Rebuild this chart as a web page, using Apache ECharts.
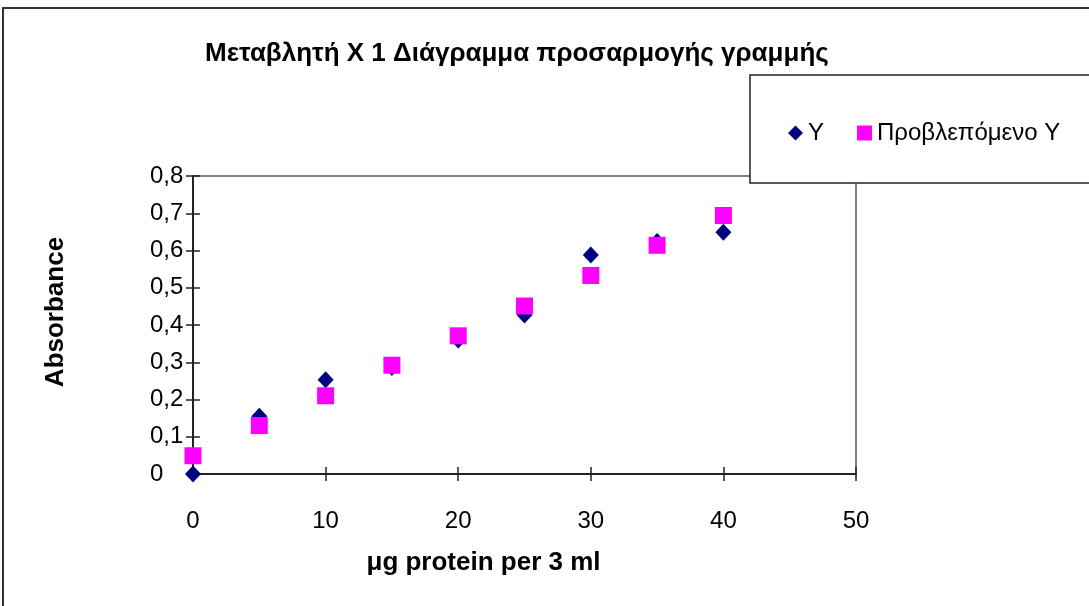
<!DOCTYPE html>
<html>
<head>
<meta charset="utf-8">
<script src="https://cdn.jsdelivr.net/npm/echarts@6/dist/echarts.min.js"></script>
<style>
html,body{margin:0;padding:0;background:#fff;}
#chart{width:1089px;height:606px;}
</style>
</head>
<body>
<div id="chart"></div>
<script>
// Data
var titleText = 'Μεταβλητή X 1 Διάγραμμα προσαρμογής γραμμής';
var xAxisName = 'μg protein per 3 ml';
var yAxisName = 'Absorbance';
var seriesNames = ['Y', 'Προβλεπόμενο Υ'];
var xValues = [0, 5, 10, 15, 20, 25, 30, 35, 40];
var yObserved = [0.000, 0.155, 0.253, 0.286, 0.360, 0.427, 0.588, 0.624, 0.649];
var yPredicted = [0.049, 0.130, 0.210, 0.292, 0.371, 0.451, 0.533, 0.614, 0.694];

function pairs(xs, ys) {
  var out = [];
  for (var i = 0; i < xs.length; i++) out.push([xs[i], ys[i]]);
  return out;
}

var FONT = '"Liberation Sans", Arial, sans-serif';
var chart = echarts.init(document.getElementById('chart'), null, {renderer: 'canvas'});

function yFmt(v) {
  if (v === 0) return '0';
  return v.toFixed(1).replace('.', ',');
}

var option = {
  backgroundColor: '#ffffff',
  animation: false,
  title: {
    text: titleText,
    left: 200,
    top: 36,
    textStyle: {fontFamily: FONT, fontSize: 26, fontWeight: 'bold', color: '#000'}
  },
  graphic: [
    {
      type: 'rect', z: 100,
      shape: {x: 3, y: 8, width: 1200, height: 800},
      style: {fill: 'none', stroke: '#333', lineWidth: 2}
    },
    {
      type: 'rect', z: 100,
      shape: {x: 750, y: 75, width: 400, height: 108},
      style: {fill: '#fff', stroke: '#222', lineWidth: 1.5}
    }
  ],
  legend: {
    z: 200,
    left: 783,
    top: 116,
    itemWidth: 15,
    itemHeight: 15,
    itemGap: 33,
    textStyle: {fontFamily: FONT, fontSize: 24, color: '#000'},
    data: [
      {name: seriesNames[0], icon: 'diamond', itemStyle: {color: '#000080'}},
      {name: seriesNames[1], icon: 'rect', itemStyle: {color: '#FF00FF'}}
    ]
  },
  grid: {
    left: 193, top: 176, right: 233, bottom: 132,
    show: true, borderColor: '#808080', borderWidth: 2, backgroundColor: '#fff'
  },
  xAxis: [
    {
      type: 'value', min: 0, max: 50, interval: 10, position: 'bottom',
      axisLine: {show: true, onZero: false, lineStyle: {color: '#222', width: 2}},
      axisTick: {show: true, inside: false, length: 7, lineStyle: {color: '#222', width: 1.5}},
      axisLabel: {margin: 35, fontFamily: FONT, fontSize: 24, color: '#000'},
      splitLine: {show: false},
      name: xAxisName, nameLocation: 'middle', nameGap: 76,
      nameTextStyle: {fontFamily: FONT, fontSize: 26, fontWeight: 'bold', color: '#000', padding: [0, 82, 0, 0]}
    },
    {
      type: 'value', min: 0, max: 50, interval: 10, position: 'bottom',
      axisLine: {show: false},
      axisTick: {show: true, inside: true, length: 7, lineStyle: {color: '#222', width: 1.5}},
      axisLabel: {show: false},
      splitLine: {show: false}
    }
  ],
  yAxis: [
    {
      type: 'value', min: 0, max: 0.8, interval: 0.1, position: 'left',
      axisLine: {show: true, onZero: false, lineStyle: {color: '#222', width: 2}},
      axisTick: {show: true, inside: false, length: 7, lineStyle: {color: '#222', width: 1.5}},
      axisLabel: {margin: 43, align: 'left', fontFamily: FONT, fontSize: 24, color: '#000', formatter: yFmt},
      splitLine: {show: false},
      name: yAxisName, nameLocation: 'middle', nameGap: 124,
      nameTextStyle: {fontFamily: FONT, fontSize: 26, fontWeight: 'bold', color: '#000', padding: [0, 0, 0, 26]}
    },
    {
      type: 'value', min: 0, max: 0.8, interval: 0.1, position: 'left',
      axisLine: {show: false},
      axisTick: {show: true, inside: true, length: 7, lineStyle: {color: '#222', width: 1.5}},
      axisLabel: {show: false},
      splitLine: {show: false}
    }
  ],
  series: [
    {
      name: seriesNames[0], type: 'scatter', xAxisIndex: 0, yAxisIndex: 0,
      symbol: 'diamond', symbolSize: [16, 17],
      itemStyle: {color: '#000080', opacity: 1},
      data: pairs(xValues, yObserved), z: 3
    },
    {
      name: seriesNames[1], type: 'scatter', xAxisIndex: 0, yAxisIndex: 0,
      symbol: 'rect', symbolSize: 17,
      itemStyle: {color: '#FF00FF', opacity: 1},
      data: pairs(xValues, yPredicted), z: 4
    }
  ]
};
chart.setOption(option);
</script>
</body>
</html>
